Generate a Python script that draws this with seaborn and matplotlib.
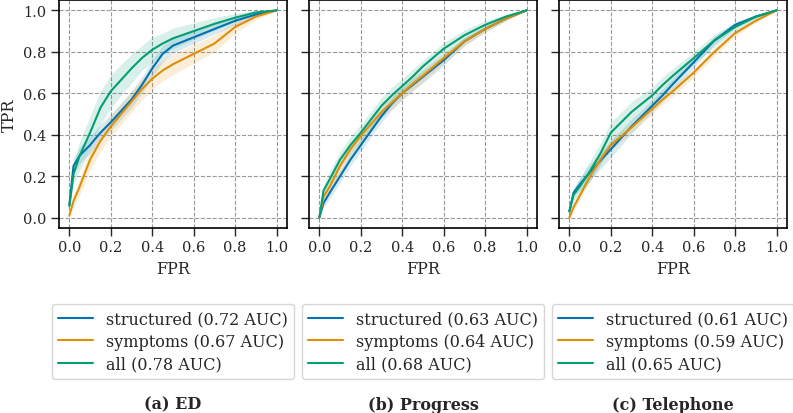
import numpy as np
import pandas as pd
import seaborn as sns
import matplotlib.pyplot as plt

# shared FPR grid
fpr = [0.0, 0.02, 0.05, 0.1, 0.15, 0.2, 0.3, 0.35, 0.4, 0.45, 0.5, 0.6, 0.7, 0.8, 0.9, 1.0]

models = ["structured", "symptoms", "all"]
panels = ["(a) ED", "(b) Progress", "(c) Telephone"]

auc = {
    "(a) ED": [0.72, 0.67, 0.78],
    "(b) Progress": [0.63, 0.64, 0.68],
    "(c) Telephone": [0.61, 0.59, 0.65],
}

# mean TPR per model
tpr_ed_structured = [0.06, 0.25, 0.30, 0.35, 0.41, 0.46, 0.57, 0.64, 0.72, 0.79, 0.83, 0.87, 0.91, 0.95, 0.98, 1.0]
tpr_ed_symptoms = [0.01, 0.08, 0.15, 0.28, 0.37, 0.44, 0.56, 0.62, 0.67, 0.71, 0.74, 0.79, 0.84, 0.92, 0.97, 1.0]
tpr_ed_all = [0.056, 0.21, 0.30, 0.41, 0.53, 0.61, 0.72, 0.77, 0.81, 0.84, 0.865, 0.90, 0.935, 0.965, 0.99, 1.0]

tpr_pr_structured = [0.0, 0.07, 0.12, 0.20, 0.28, 0.35, 0.49, 0.55, 0.60, 0.64, 0.68, 0.76, 0.85, 0.91, 0.96, 1.0]
tpr_pr_symptoms = [0.0, 0.10, 0.15, 0.25, 0.33, 0.395, 0.51, 0.555, 0.60, 0.645, 0.685, 0.77, 0.85, 0.91, 0.96, 1.0]
tpr_pr_all = [0.0, 0.13, 0.185, 0.28, 0.35, 0.41, 0.54, 0.59, 0.635, 0.68, 0.73, 0.815, 0.88, 0.93, 0.97, 1.0]

tpr_te_structured = [0.03, 0.12, 0.16, 0.22, 0.275, 0.33, 0.44, 0.49, 0.54, 0.59, 0.645, 0.75, 0.855, 0.93, 0.97, 1.0]
tpr_te_symptoms = [0.0, 0.05, 0.105, 0.20, 0.28, 0.35, 0.435, 0.48, 0.525, 0.57, 0.61, 0.70, 0.80, 0.89, 0.95, 1.0]
tpr_te_all = [0.03, 0.11, 0.15, 0.225, 0.31, 0.41, 0.51, 0.55, 0.59, 0.64, 0.685, 0.77, 0.855, 0.92, 0.97, 1.0]

# half width of the shaded band
band_ed_structured = [0, 0.04, 0.04, 0.04, 0.04, 0.04, 0.04, 0.04, 0.04, 0.04, 0.035, 0.03, 0.025, 0.02, 0.01, 0]
band_ed_symptoms = [0, 0.03, 0.04, 0.05, 0.05, 0.05, 0.05, 0.05, 0.05, 0.05, 0.05, 0.045, 0.04, 0.03, 0.015, 0]
band_ed_all = [0, 0.05, 0.07, 0.08, 0.08, 0.08, 0.07, 0.06, 0.06, 0.05, 0.05, 0.04, 0.03, 0.02, 0.01, 0]

band_pr_structured = [0, 0.02, 0.03, 0.03, 0.03, 0.03, 0.03, 0.03, 0.03, 0.03, 0.03, 0.025, 0.02, 0.015, 0.01, 0]
band_pr_symptoms = [0, 0.02, 0.03, 0.03, 0.03, 0.03, 0.03, 0.03, 0.03, 0.03, 0.03, 0.025, 0.02, 0.015, 0.01, 0]
band_pr_all = [0, 0.03, 0.04, 0.04, 0.04, 0.04, 0.04, 0.04, 0.035, 0.035, 0.03, 0.03, 0.025, 0.02, 0.01, 0]

band_te_structured = [0, 0.02, 0.03, 0.04, 0.04, 0.04, 0.035, 0.03, 0.03, 0.03, 0.03, 0.025, 0.02, 0.015, 0.01, 0]
band_te_symptoms = [0, 0.02, 0.02, 0.025, 0.025, 0.025, 0.025, 0.025, 0.025, 0.025, 0.025, 0.02, 0.02, 0.015, 0.01, 0]
band_te_all = [0, 0.03, 0.04, 0.05, 0.05, 0.05, 0.05, 0.045, 0.04, 0.04, 0.035, 0.03, 0.03, 0.02, 0.01, 0]

tpr = {
    "(a) ED": [tpr_ed_structured, tpr_ed_symptoms, tpr_ed_all],
    "(b) Progress": [tpr_pr_structured, tpr_pr_symptoms, tpr_pr_all],
    "(c) Telephone": [tpr_te_structured, tpr_te_symptoms, tpr_te_all],
}
band = {
    "(a) ED": [band_ed_structured, band_ed_symptoms, band_ed_all],
    "(b) Progress": [band_pr_structured, band_pr_symptoms, band_pr_all],
    "(c) Telephone": [band_te_structured, band_te_symptoms, band_te_all],
}

sns.set_style("ticks", {"axes.grid": True, "grid.linestyle": "--", "grid.color": "0.6",
                        "axes.edgecolor": "black"})
plt.rcParams["font.family"] = ["DejaVu Serif"]
plt.rcParams["font.size"] = 11.5
colors = sns.color_palette("colorblind", 3)

fig = plt.figure(figsize=(7.93, 4.14), dpi=100)
lefts = [59, 309, 559]
for i, name in enumerate(panels):
    ax = fig.add_axes([lefts[i] / 793, (414 - 229) / 414, 228 / 793, 228 / 414])
    rows = []
    for m, model in enumerate(models):
        label = f"{model} ({auc[name][m]:.2f} AUC)"
        for x, y in zip(fpr, tpr[name][m]):
            rows.append({"FPR": x, "TPR": y, "model": label})
    df = pd.DataFrame(rows)
    sns.lineplot(data=df, x="FPR", y="TPR", hue="model", palette=colors, ax=ax,
                 errorbar=None, linewidth=1.5)
    for m in range(3):
        mean = np.array(tpr[name][m])
        hw = np.array(band[name][m])
        ax.fill_between(fpr, np.clip(mean - hw, 0, 1), np.clip(mean + hw, 0, 1),
                        color=colors[m], alpha=0.15, linewidth=0)
    ax.set_xlim(-0.05, 1.05)
    ax.set_ylim(-0.05, 1.05)
    ax.set_xticks(np.arange(0, 1.01, 0.2))
    ax.set_yticks(np.arange(0, 1.01, 0.2))
    ax.set_xlabel("FPR", fontsize=11.5)
    if i > 0:
        ax.set_ylabel("")
        ax.set_yticklabels([])
    else:
        ax.set_ylabel("TPR", fontsize=11.5)
    for s in ax.spines.values():
        s.set_linewidth(1.2)
    ax.tick_params(width=1.0, length=5.5, pad=3.5, labelsize=10.5)
    ax.grid(True, linestyle="--", color="0.6", linewidth=0.8)
    ax.legend(loc="upper center", bbox_to_anchor=(0.5, -0.333), borderaxespad=0,
              fontsize=11.5, handlelength=2.2, labelspacing=0.35, edgecolor="0.8")
    ax.text(0.5, -0.772, name, transform=ax.transAxes, ha="center", va="center",
            fontweight="bold", fontsize=11.5)

fig.savefig("out.png", dpi=100)
